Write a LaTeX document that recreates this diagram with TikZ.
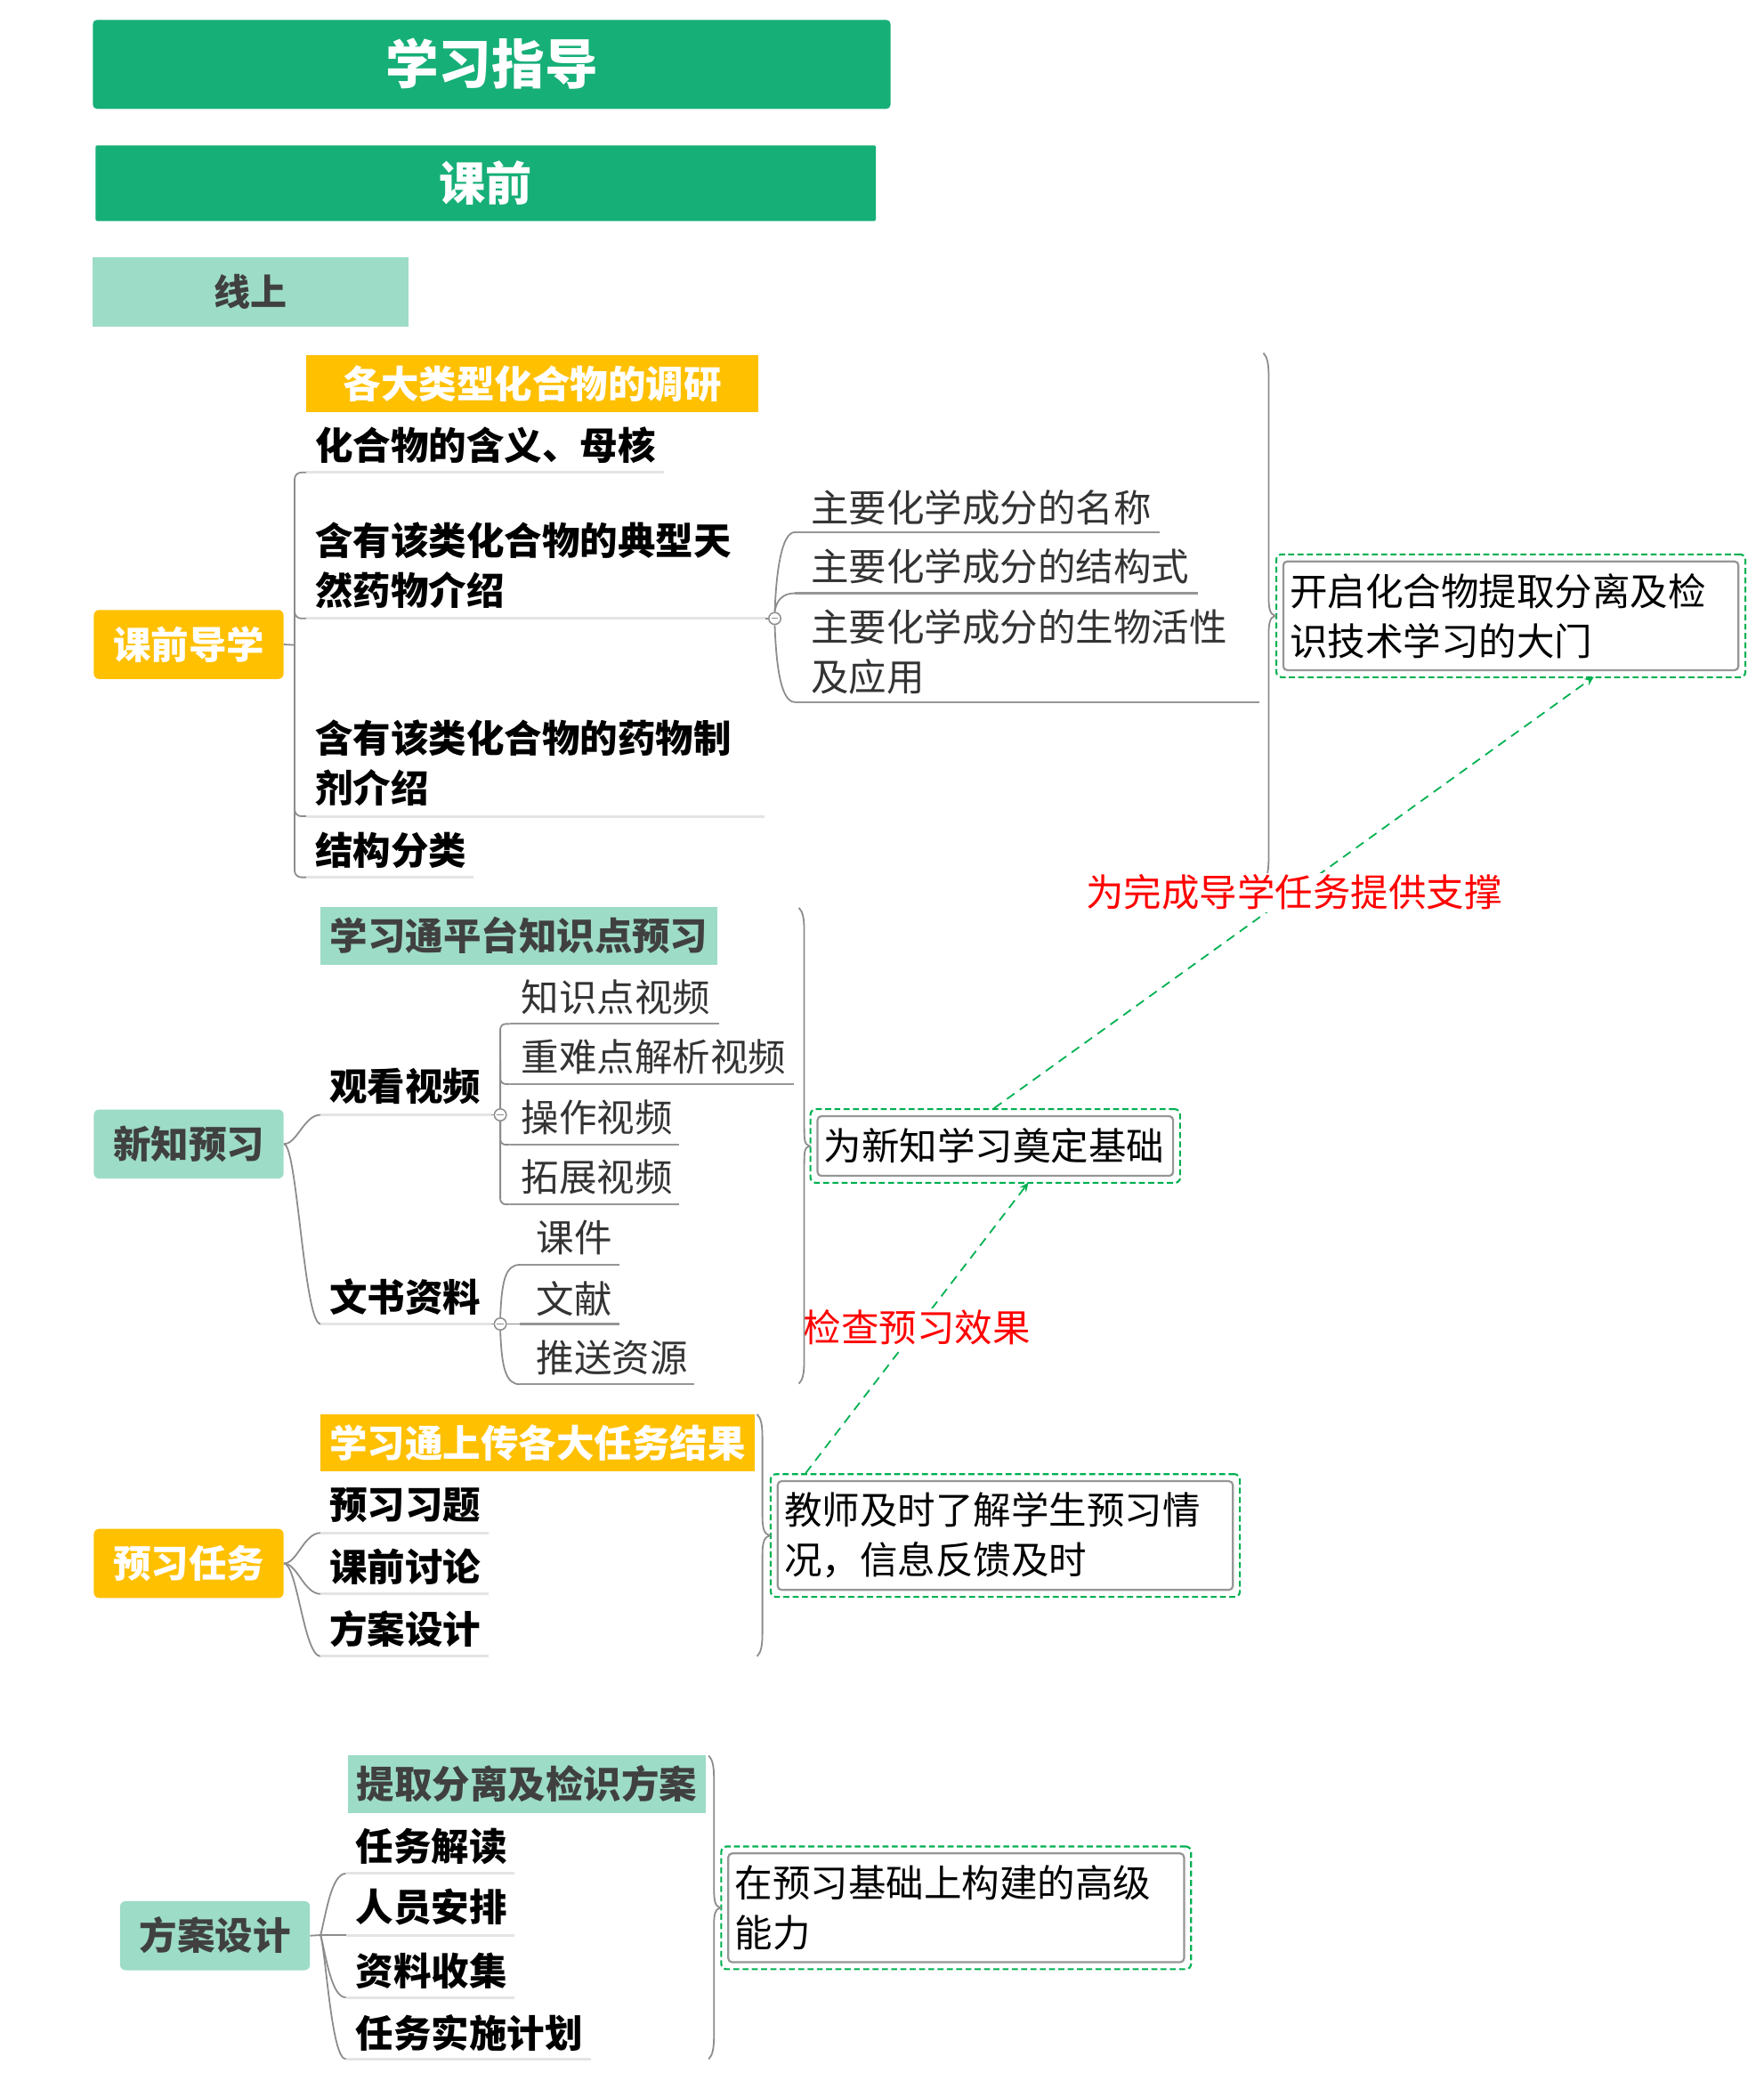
\documentclass[tikz,border=0pt]{standalone}
\usepackage{fontspec}
\setmainfont{Noto Sans CJK SC}
\usetikzlibrary{arrows.meta,fit,calc}
\definecolor{tgreen}{RGB}{22,175,120}
\definecolor{lgreen}{RGB}{157,220,198}
\definecolor{orng}{RGB}{255,192,0}
\definecolor{dtext}{RGB}{64,64,64}
\definecolor{lgray}{RGB}{140,140,140}
\definecolor{ulgray}{RGB}{228,228,228}
\definecolor{subgray}{RGB}{150,150,150}
\definecolor{dgreen}{RGB}{0,176,80}
\definecolor{txtgray}{RGB}{51,51,51}
\newcommand{\fsz}{\fontsize{28.5}{37.5}\selectfont}
\newcommand{\brc}[5]{%
 \draw[lnk] (#1-4,#2) .. controls (#1-1,#2+3) and (#1,#2+8) .. (#1,#2+18) -- (#1,#4-14) .. controls (#1,#4-5) and ($(#5)+(-4,-1)$) .. (#5) .. controls ($(#5)+(-4,1)$) and (#1,#4+5) .. (#1,#4+14) -- (#1,#3-18) .. controls (#1,#3-8) and (#1-1,#3-3) .. (#1-4,#3);}
\begin{document}
\begin{tikzpicture}[x=1pt,y=-1pt,
 topbox/.style={fill=tgreen, text=white, rounded corners=3pt, inner sep=0pt},
 secbox/.style={rounded corners=4pt, inner sep=0pt, minimum width=143pt, minimum height=52pt, font=\bfseries\fsz, text height=25.08pt, text depth=3.42pt},
 hdrbox/.style={inner sep=0pt, minimum height=43pt, font=\bfseries\fsz, text height=25.08pt, text depth=3.42pt},
 item/.style={anchor=base west, inner sep=0pt, font=\bfseries\fsz, align=left},
 sub/.style={anchor=base west, inner sep=0pt, font=\fsz, text=txtgray, align=left},
 lnk/.style={draw=lgray, line width=1.2pt},
 ul/.style={draw=ulgray, line width=2pt},
 sul/.style={draw=subgray, line width=1.4pt},
 sumbox/.style={draw=subgray, line width=1.5pt, rounded corners=3pt, fill=white, inner xsep=5pt, inner ysep=0pt, align=left, font=\fsz},
 dashbox/.style={draw=dgreen, line width=1.4pt, dash pattern=on 4.5pt off 2.5pt, rounded corners=4pt, inner sep=4.5pt},
 arr/.style={draw=dgreen, line width=1.2pt, dash pattern=on 7pt off 5pt, -{Stealth[length=7pt,width=6pt]}},
 lab/.style={fill=white, text=red, font=\fsz, inner sep=0.5pt, text height=25.08pt, text depth=3.42pt},
 knob/.style={circle, draw=lgray, fill=white, line width=1pt, minimum size=9pt, inner sep=0pt}
]
\useasboundingbox (0,0) rectangle (1329,1568);

% ---------- top boxes ----------
\node[topbox, minimum width=601pt, minimum height=67pt, font=\bfseries\fontsize{40}{48}\selectfont, text height=35.2pt, text depth=4.8pt] (title) at (370.5,48.5) {学习指导};
\node[topbox, rounded corners=1pt, minimum width=588pt, minimum height=57pt, font=\bfseries\fontsize{35}{42}\selectfont, text height=30.8pt, text depth=4.2pt] (kq) at (366,138) {课前};
\node[fill=lgreen, text=dtext, inner sep=0pt, minimum width=238pt, minimum height=52pt, font=\bfseries\fontsize{27.5}{33}\selectfont, text height=24.2pt, text depth=3.3pt] (xs) at (189,220) {线上};

% ---------- section boxes ----------
\node[secbox, fill=orng, text=white] (qd) at (142.2,485.6) {课前导学};
\node[secbox, fill=lgreen, text=dtext] (xz) at (142.2,862) {新知预习};
\node[secbox, fill=orng, text=white] (yx) at (142.2,1178) {预习任务};
\node[secbox, fill=lgreen, text=dtext] (fa) at (162,1458.5) {方案设计};

% ---------- header boxes ----------
\node[hdrbox, fill=orng, text=white, minimum width=341pt] (h1) at (401.2,289) {各大类型化合物的调研};
\node[hdrbox, fill=lgreen, text=dtext, minimum width=299pt, minimum height=44pt] (h2) at (391,705.3) {学习通平台知识点预习};
\node[hdrbox, fill=orng, text=white, minimum width=327pt] (h3) at (405,1087.2) {学习通上传各大任务结果};
\node[hdrbox, fill=lgreen, text=dtext, minimum width=270pt] (h4) at (396.9,1344.3) {提取分离及检识方案};

% ---------- group 1 ----------
\node[item] (t11) at (237.5,346.6) {化合物的含义、母核};
\node[item] (t12) at (237.5,455.4) {含有该类化合物的典型天\\然药物介绍};
\node[item] (t13) at (237.5,604.8) {含有该类化合物的药物制\\剂介绍};
\node[item] (t14) at (237.5,651.5) {结构分类};
\node[sub] (t121) at (611,393.2) {主要化学成分的名称};
\node[sub] (t122) at (611,437.8) {主要化学成分的结构式};
\node[sub] (t123) at (611,520.8) {主要化学成分的生物活性\\及应用};

\coordinate (g1j) at (222,486);
\draw[lnk] (qd.east) -- (g1j);
\draw[lnk, rounded corners=5pt] (231,356) -- (222,356) -- (222,661) -- (231,661);
\draw[lnk, rounded corners=5pt] (222,445) |- (231,466);
\draw[lnk, rounded corners=5pt] (222,595) |- (231,615);
\draw[ul] (231,356) -- (500.6,356);
\draw[ul] (231,466) -- (576.5,466);
\draw[ul] (231,615) -- (576,615);
\draw[ul] (231,661) -- (357,661);
\node[knob] (k1) at (583.8,466) {};
\draw[lnk] (576.5,466) -- (k1.west);
\draw[lnk] (k1.north) .. controls (585,430) and (589,401) .. (599,401);
\draw[lnk] (k1.north) .. controls (585,452) and (590,447) .. (599,447);
\draw[lnk] (k1.south) .. controls (585,505) and (589,529) .. (599,529);
\draw[lgray, line width=0.8pt] ($(k1.center)+(-2.5,0)$) -- ($(k1.center)+(2.5,0)$);
\draw[sul] (599,401) -- (874,401);
\draw[sul] (599,447) -- (903,447);
\draw[sul] (599,529) -- (949,529);

% ---------- group 2 ----------
\node[item] (t21) at (248,829.4) {观看视频};
\node[item] (t22) at (248,988.3) {文书资料};
\node[sub] (t211) at (392.5,762.3) {知识点视频};
\node[sub] (t212) at (392.5,807.3) {重难点解析视频};
\node[sub] (t213) at (392.5,852.8) {操作视频};
\node[sub] (t214) at (392.5,897.8) {拓展视频};
\node[sub] (t221) at (404,943.4) {课件};
\node[sub] (t222) at (404,989.4) {文献};
\node[sub] (t223) at (404,1033.8) {推送资源};

\draw[lnk] (xz.east) .. controls (224,862) and (229,840) .. (241.6,840);
\draw[lnk] (xz.east) .. controls (224,862) and (229,997.6) .. (241.6,997.6);
\draw[ul] (241.6,840) -- (370.5,840);
\draw[ul] (241.6,997.6) -- (370.5,997.6);
\draw[lnk, rounded corners=4pt] (384,771.5) -- (377,771.5) -- (377,907.4) -- (384,907.4);
\draw[lnk, rounded corners=4pt] (377,800) |- (384,816.8);
\draw[lnk, rounded corners=4pt] (377,845) |- (384,862.5);
\node[knob] (k2) at (377,840) {};
\node[knob] (k3) at (377,997.6) {};
\draw[lnk] (370.5,840) -- (k2.west);
\draw[lnk] (370.5,997.6) -- (k3.west);
\draw[lgray, line width=0.8pt] ($(k2.center)+(-2.5,0)$) -- ($(k2.center)+(2.5,0)$);
\draw[lgray, line width=0.8pt] ($(k3.center)+(-2.5,0)$) -- ($(k3.center)+(2.5,0)$);
\draw[sul] (384,771.5) -- (542,771.5);
\draw[sul] (384,816.8) -- (598,816.8);
\draw[sul] (384,862.5) -- (512,862.5);
\draw[sul] (384,907.4) -- (512,907.4);
\draw[lnk] (k3.north) .. controls (378,965) and (381,953) .. (391.6,953);
\draw[lnk] (k3.east) -- (391.6,997.6);
\draw[lnk] (k3.south) .. controls (378,1030) and (381,1043) .. (391.6,1043);
\draw[sul] (391.6,953) -- (466.7,953);
\draw[sul] (391.6,997.6) -- (466.7,997.6);
\draw[sul] (391.6,1043) -- (523,1043);

% ---------- group 3 ----------
\node[item] (t31) at (248,1144.6) {预习习题};
\node[item] (t32) at (248,1191.5) {课前讨论};
\node[item] (t33) at (248,1238.5) {方案设计};
\draw[lnk] (yx.east) .. controls (224,1178) and (229,1155) .. (241.6,1155);
\draw[lnk] (yx.east) .. controls (224,1178) and (229,1201) .. (241.6,1201);
\draw[lnk] (yx.east) .. controls (224,1178) and (229,1248) .. (241.6,1248);
\draw[ul] (241.6,1155) -- (368,1155);
\draw[ul] (241.6,1201) -- (368,1201);
\draw[ul] (241.6,1248) -- (368,1248);

% ---------- group 4 ----------
\node[item] (t41) at (268,1401.8) {任务解读};
\node[item] (t42) at (268,1447.8) {人员安排};
\node[item] (t43) at (268,1495.8) {资料收集};
\node[item] (t44) at (268,1542.8) {任务实施计划};
\coordinate (g4j) at (241.6,1458);
\draw[lnk] (fa.east) -- (g4j);
\draw[lnk] (g4j) .. controls (246,1440) and (250,1411.7) .. (260.6,1411.7);
\draw[lnk] (g4j) -- (260.6,1458);
\draw[lnk] (g4j) .. controls (246,1476) and (250,1505) .. (260.6,1505);
\draw[lnk] (g4j) .. controls (246,1476) and (250,1551.5) .. (260.6,1551.5);
\draw[ul] (260.6,1411.7) -- (387.8,1411.7);
\draw[ul] (260.6,1458) -- (387.8,1458);
\draw[ul] (260.6,1505) -- (387.8,1505);
\draw[ul] (260.6,1551.5) -- (445.5,1551.5);

% ---------- summary boxes ----------
\node[sumbox, text width=333pt, minimum height=82pt] (s1) at (1138.5,464) {开启化合物提取分离及检\\识技术学习的大门};
\node[dashbox, fit=(s1)] (s1o) {};
\node[sumbox, text width=258pt, minimum height=45pt] (s2) at (750,863.5) {为新知学习奠定基础};
\node[dashbox, fit=(s2)] (s2o) {};
\node[sumbox, text width=333pt, minimum height=82pt] (s3) at (757.5,1157) {教师及时了解学生预习情\\况，信息反馈及时};
\node[dashbox, fit=(s3)] (s3o) {};
\node[sumbox, text width=333.5pt, minimum height=82pt] (s4) at (720.5,1437.5) {在预习基础上构建的高级\\能力};
\node[dashbox, fit=(s4)] (s4o) {};

% brace 1 (partly covered by label)
\brc{956}{266}{664}{464}{s1o.west}

% ---------- arrows ----------
\coordinate (a1s) at ($(s3o.north west)+(27,0)$);
\coordinate (a1e) at ($(s2o.south west)+(165,-1)$);
\coordinate (a2s) at ($(s2o.north west)+(139,0)$);
\coordinate (a2e) at ($(s1o.south west)+(240,-1)$);
\draw[arr] (a1s) -- node[lab] {检查预习效果} (a1e);
\draw[arr] (a2s) -- node[lab] {为完成导学任务提供支撑} (a2e);

% other braces
\brc{606}{684}{1042.6}{863.5}{s2o.west}
\brc{574.5}{1065.6}{1248}{1157}{s3o.west}
\brc{538}{1322.8}{1551.5}{1437}{s4o.west}
\end{tikzpicture}
\end{document}
